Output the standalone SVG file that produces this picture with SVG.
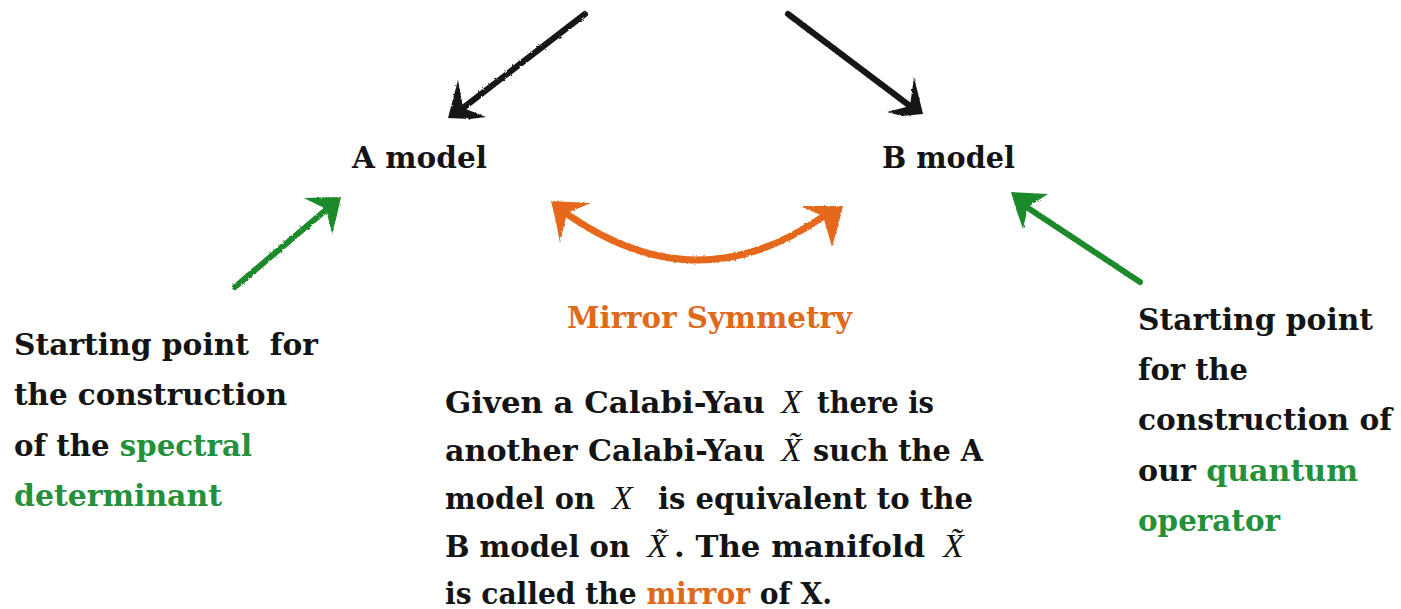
<svg xmlns="http://www.w3.org/2000/svg" width="1401" height="609" viewBox="0 0 1401 609">
<style>
text{font-family:"DejaVu Serif","Liberation Serif",serif;font-weight:bold;fill:#141414;font-size:29px;}
.math{font-family:"Liberation Serif","Times New Roman",serif;font-style:italic;font-weight:normal;font-size:34px;}
.g{fill:#24903b;}
.o{fill:#e06a1c;}
.ln{fill:none;stroke-linecap:round;stroke-linejoin:round;}
.k{stroke:#141414;}
.kf{fill:#141414;}
.ost{stroke:#e5681a;}
.of{fill:#e5681a;}
.gst{stroke:#1e8a2c;}
.gf{fill:#1e8a2c;}
</style>
<defs>
<filter id="rough" x="-10%" y="-10%" width="120%" height="120%">
<feTurbulence type="fractalNoise" baseFrequency="0.35" numOctaves="2" seed="3"/>
<feDisplacementMap in="SourceGraphic" scale="2.5"/>
</filter>
</defs>
<rect width="1401" height="609" fill="#ffffff"/>
<g id="connectors" filter="url(#rough)">
<path class="ln k" stroke-width="6" d="M585 14 L463 108"/>
<path class="kf" d="M448 118 L458 80 L463 108 L486 117 L470 119 Z"/>
<path class="ln k" stroke-width="6" d="M788 14 L910 106"/>
<path class="kf" d="M923 114 L914 77 L910 106 L887 112 L902 116 Z"/>
<path class="ln ost" stroke-width="7" d="M567 214 Q697 305 824 216"/>
<path class="of" d="M551 201 L591 203 L567 213 L560 243 L556 222 Z"/>
<path class="of" d="M843 206 L800 206 L823 216 L832 247 L838 226 Z"/>
<path class="ln gst" stroke-width="6" d="M235 287 L327 209"/>
<path class="gf" d="M341 197 L304 198 L326 209 L332 234 L337 215 Z"/>
<path class="ln gst" stroke-width="6" d="M1140 282 L1028 208"/>
<path class="gf" d="M1011 192 L1048 194 L1028 207 L1023 229 L1017 212 Z"/>
</g>
<g id="node-a-model"><text x="352" y="168" textLength="135" lengthAdjust="spacingAndGlyphs">A model</text></g>
<g id="node-b-model"><text x="882" y="168" textLength="133" lengthAdjust="spacingAndGlyphs">B model</text></g>
<g id="node-mirror-symmetry"><text class="o" x="567" y="328" textLength="285" lengthAdjust="spacingAndGlyphs">Mirror Symmetry</text></g>
<g id="node-left-note">
<text x="14" y="355" textLength="304" lengthAdjust="spacingAndGlyphs" xml:space="preserve">Starting point  for</text>
<text x="14" y="405" textLength="273" lengthAdjust="spacingAndGlyphs">the construction</text>
<text x="14" y="456" textLength="238" lengthAdjust="spacingAndGlyphs">of the <tspan class="g">spectral</tspan></text>
<text class="g" x="14" y="506" textLength="208" lengthAdjust="spacingAndGlyphs">determinant</text>
</g>
<g id="node-right-note">
<text x="1138" y="330" textLength="235" lengthAdjust="spacingAndGlyphs">Starting point</text>
<text x="1138" y="380" textLength="110" lengthAdjust="spacingAndGlyphs">for the</text>
<text x="1138" y="430" textLength="254" lengthAdjust="spacingAndGlyphs">construction of</text>
<text x="1138" y="481" textLength="220" lengthAdjust="spacingAndGlyphs">our <tspan class="g">quantum</tspan></text>
<text class="g" x="1138" y="531" textLength="142" lengthAdjust="spacingAndGlyphs">operator</text>
</g>
<g id="node-mirror-desc">
<text x="445" y="413" textLength="320" lengthAdjust="spacingAndGlyphs">Given a Calabi-Yau</text>
<text class="math" x="781" y="413">X</text>
<text x="817" y="413" textLength="117" lengthAdjust="spacingAndGlyphs">there is</text>
<text x="445" y="461" textLength="320" lengthAdjust="spacingAndGlyphs">another Calabi-Yau</text>
<text class="math" x="781" y="461">X̃</text>
<text x="813" y="461" textLength="170" lengthAdjust="spacingAndGlyphs">such the A</text>
<text x="445" y="509" textLength="150" lengthAdjust="spacingAndGlyphs">model on</text>
<text class="math" x="612" y="509">X</text>
<text x="658" y="509" textLength="315" lengthAdjust="spacingAndGlyphs">is equivalent to the</text>
<text x="445" y="557" textLength="185" lengthAdjust="spacingAndGlyphs">B model on</text>
<text class="math" x="647" y="557">X̃</text>
<text x="674" y="557" textLength="251" lengthAdjust="spacingAndGlyphs">. The manifold</text>
<text class="math" x="943" y="557">X̃</text>
<text x="445" y="604" textLength="387" lengthAdjust="spacingAndGlyphs">is called the <tspan class="o">mirror</tspan> of X.</text>
</g>
</svg>
